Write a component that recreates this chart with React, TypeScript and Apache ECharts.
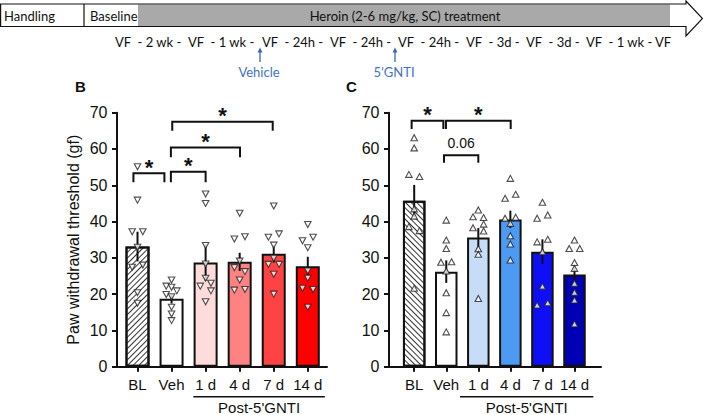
import React, { useEffect, useRef } from "react";
import * as echarts from "echarts";

// ---------- data ----------
const categories = ["BL", "Veh", "1 d", "4 d", "7 d", "14 d"];
const yTickValues = [0, 10, 20, 30, 40, 50, 60, 70];

// Panel B (down triangles, red)
const meansB = [33.1, 18.7, 28.7, 28.9, 31.1, 27.7];
const semB = [4.1, 1.3, 5.0, 2.5, 2.4, 2.6];
const pointsB = [
  [55.1, 45.9, 37.2, 37.2, 32.9, 28.0, 27.4, 20.4, 17.5],
  [23.9, 22.2, 21.9, 20.9, 19.9, 19.3, 16.4, 14.5, 12.7],
  [47.6, 45.0, 33.4, 28.3, 24.4, 23.0, 22.2, 20.9, 17.9],
  [42.3, 35.8, 35.2, 29.1, 27.3, 26.2, 23.9, 21.3, 21.1],
  [44.3, 36.6, 35.7, 33.5, 29.9, 28.2, 28.2, 25.5, 20.0],
  [39.2, 35.7, 34.7, 32.8, 26.4, 24.4, 21.6, 21.3, 16.4],
];
const jitterB = [
  [0, 0, -1, 1, 0, 1, -1, 0, 0],
  [0, -1, 0, 1, -1, 0, 0, 0, 0],
  [0, 0, 0, 0, 0, 1, -1, 1, 0],
  [0, 1, -1, 0, -1, 1, 0, 1, -1],
  [0, 1, -1, 0, 0, -1, 1, 0, 0],
  [0, 1, -1, 0, 0, 0, -1, 1, 0],
];
const bracketsB = [
  // [x1, x2, top, leftLegEnd, rightLegEnd]
  [-0.12, 0.79, 53.3, 50.8, 50.8],
  [0.98, 2.0, 53.7, 50.8, 50.8],
  [0.98, 3.01, 60.4, 57.7, 57.7],
  [1.02, 3.97, 67.5, 65.0, 65.0],
];
const bracketLabelsB = ["*", "*", "*", "*"];

// Panel C (up triangles, blue)
const meansC = [45.7, 26.2, 35.6, 40.6, 31.7, 25.4];
const semC = [4.4, 3.1, 2.6, 2.4, 3.4, 2.2];
const pointsC = [
  [63.1, 60.3, 53.0, 52.4, 43.5, 41.5, 38.6, 37.5, 21.6],
  [40.4, 34.9, 32.6, 28.9, 28.8, 26.4, 20.4, 14.9, 9.6],
  [43.2, 41.3, 41.1, 39.3, 38.3, 37.4, 32.5, 31.0, 18.8],
  [51.9, 47.5, 46.4, 41.2, 40.9, 39.5, 36.1, 33.8, 29.4],
  [45.3, 41.8, 40.9, 35.1, 34.4, 31.7, 22.2, 17.6, 17.0],
  [34.9, 32.6, 32.6, 28.7, 27.1, 23.0, 20.5, 18.4, 11.8],
];
const jitterC = [
  [0, 0, -1, 1, 0, 0, -1, 1, 0],
  [0, 0, 0, 1, -1, 0, 0, 0, 0],
  [0, -1, 1, 1, -1, 1, 0, 0, 0],
  [0, 1, -1, 1, -1, 0, 0, 0, 0],
  [0, 1, -1, 1, -1, 0, 0, 1, -1],
  [0, -1, 1, 0, 0, 0, 0, 0, 0],
];
const bracketsC = [
  [-0.08, 0.91, 67.8, 65.5, 65.5],
  [0.99, 3.01, 67.8, 65.5, 65.5],
  [0.93, 2.0, 58.3, 56.2, 56.2],
];
const bracketLabelsC = ["*", "*", "0.06"];

const postGroupLabel = "Post-5'GNTI";
const postGroupSpanB = [[1.64, 5.5]];
const postGroupSpanC = [[1.43, 5.59]];

// timeline texts
const timelineSteps = [
  "VF  - 2 wk -",
  "VF  - 1 wk -",
  "VF  - 24h -",
  "VF  - 24h -",
  "VF  - 24h -",
  "VF  - 3d -",
  "VF  - 3d -",
  "VF  - 1 wk -",
  "VF",
];

// ---------- styles / layout ----------
const FONT = "Liberation Sans, Arial, sans-serif";
const TFONT = "Lato, Liberation Sans, sans-serif";
const colorsB = ["#ffffff", "#ffffff", "#ffdcdc", "#ff8282", "#ff4242", "#ff0000"];
const colorsC = ["#ffffff", "#ffffff", "#c6dcf7", "#4c9af2", "#0f0ff5", "#0000b4"];
const stepX = [115, 188, 262, 330, 398, 466, 526, 586, 655];

const gridB = { left: 117, top: 112.7, width: 210, height: 254 };
const gridC = { left: 389, top: 112.7, width: 212, height: 254 };
const xRangeB = [-0.602, 5.564];
const xRangeC = [-0.786, 5.827];

function makeXAxis(gridIndex: number, range: number[]) {
  return {
    type: "value",
    gridIndex,
    min: range[0],
    max: range[1],
    splitLine: { show: false },
    axisLine: { show: true, onZero: false, lineStyle: { color: "#111", width: 2 } },
    axisTick: {
      show: true,
      length: 5,
      customValues: categories.map((_, i) => i),
      lineStyle: { color: "#111", width: 2 },
    },
    axisLabel: {
      show: true,
      customValues: categories.map((_, i) => i),
      formatter: (v: number) => categories[Math.round(v)] ?? "",
      color: "#111",
      fontSize: 15,
      fontFamily: FONT,
      margin: 10,
    },
  };
}

function makeYAxis(gridIndex: number, withName: boolean) {
  return {
    type: "value",
    gridIndex,
    min: 0,
    max: 70,
    interval: 10,
    splitLine: { show: false },
    axisLine: { show: true, onZero: false, lineStyle: { color: "#111", width: 2 } },
    axisTick: { show: true, length: 5, lineStyle: { color: "#111", width: 2 } },
    axisLabel: {
      color: "#111",
      fontSize: 16,
      fontFamily: FONT,
      margin: 9.5,
      formatter: (v: number) => (yTickValues.includes(v) ? String(v) : ""),
    },
    name: withName ? "Paw withdrawal threshold (gf)" : "",
    nameLocation: "middle",
    nameRotate: 90,
    nameGap: 36,
    nameTextStyle: { color: "#111", fontSize: 16, fontFamily: FONT },
  };
}

function barSeries(idx: number, means: number[], colors: string[], rot: number, barWidth: number) {
  return {
    type: "bar",
    xAxisIndex: idx,
    yAxisIndex: idx,
    barWidth,
    z: 2,
    data: means.map((m, i) => ({
      value: [i, m],
      itemStyle: {
        color: colors[i],
        borderColor: "#111",
        borderWidth: 2,
        decal:
          i === 0
            ? {
                symbol: "rect",
                symbolSize: 1,
                dashArrayX: [1, 0],
                dashArrayY: [1, 2.4],
                rotation: rot,
                color: "#333",
              }
            : undefined,
      },
    })),
  };
}

function errSeries(idx: number, means: number[], sems: number[]) {
  return {
    type: "custom",
    xAxisIndex: idx,
    yAxisIndex: idx,
    z: 3,
    encode: { x: 0, y: 1 },
    data: means.map((m, i) => [i, m, sems[i]]),
    renderItem: (_p: any, api: any) => {
      const x = api.value(0);
      const m = api.value(1);
      const e = api.value(2);
      const a = api.coord([x, m + e]);
      const b = api.coord([x, m - e]);
      return {
        type: "line",
        shape: { x1: a[0], y1: a[1], x2: b[0], y2: b[1] },
        style: { stroke: "#111", lineWidth: 2 },
      };
    },
  };
}

function pointSeries(idx: number, pts: number[][], jit: number[][], range: number[], width: number, rotate: number) {
  const dx = 5.3 / (width / (range[1] - range[0]));
  const data: number[][] = [];
  pts.forEach((arr, i) => arr.forEach((v, k) => data.push([i + jit[i][k] * dx, v])));
  return {
    type: "scatter",
    xAxisIndex: idx,
    yAxisIndex: idx,
    z: 4,
    symbol: "triangle",
    symbolSize: [6.5, 6],
    symbolRotate: rotate,
    itemStyle: { color: "#ffffff", borderColor: "#222", borderWidth: 1.1 },
    data,
  };
}

function bracketSeries(idx: number, brs: number[][], labels: string[]) {
  return {
    type: "custom",
    xAxisIndex: idx,
    yAxisIndex: idx,
    z: 5,
    encode: { x: [0, 1], y: [2, 3, 4] },
    data: brs,
    renderItem: (params: any, api: any) => {
      const x1 = api.value(0);
      const x2 = api.value(1);
      const yt = api.value(2);
      const pL = api.coord([x1, api.value(3)]);
      const pTL = api.coord([x1, yt]);
      const pTR = api.coord([x2, yt]);
      const pR = api.coord([x2, api.value(4)]);
      const lab = labels[params.dataIndex];
      const star = lab === "*";
      return {
        type: "group",
        children: [
          {
            type: "polyline",
            shape: { points: [pL, pTL, pTR, pR] },
            style: { stroke: "#111", lineWidth: 2, fill: null },
          },
          {
            type: "text",
            x: (pTL[0] + pTR[0]) / 2,
            y: pTL[1] - (star ? 6 : 12.5),
            style: {
              text: lab,
              font: star ? `bold 22px ${FONT}` : `14px ${FONT}`,
              align: "center",
              verticalAlign: "middle",
              fill: "#111",
            },
          },
        ],
      };
    },
  };
}

function groupSeries(idx: number, span: number[][]) {
  return {
    type: "custom",
    xAxisIndex: idx,
    yAxisIndex: idx,
    z: 5,
    encode: { x: [0, 1] },
    data: span,
    renderItem: (_p: any, api: any) => {
      const a = api.coord([api.value(0), 0]);
      const b = api.coord([api.value(1), 0]);
      return {
        type: "group",
        children: [
          {
            type: "line",
            shape: { x1: a[0], y1: a[1] + 30, x2: b[0], y2: b[1] + 30 },
            style: { stroke: "#111", lineWidth: 1.6 },
          },
          {
            type: "text",
            x: (a[0] + b[0]) / 2,
            y: a[1] + 41,
            style: {
              text: postGroupLabel,
              font: `15px ${FONT}`,
              align: "center",
              verticalAlign: "middle",
              fill: "#111",
            },
          },
        ],
      };
    },
  };
}

function timelineGraphics() {
  const blue = "#3f66ad";
  const els: any[] = [
    { type: "rect", shape: { x: 138, y: 4.5, width: 532, height: 21.5 }, style: { fill: "#a9a9a9" } },
    {
      type: "polygon",
      shape: {
        points: [
          [0.6, 4],
          [686, 4],
          [686, 1],
          [702.5, 18.5],
          [686, 36],
          [686, 26.5],
          [0.6, 26.5],
        ],
      },
      style: { fill: null, stroke: "#111", lineWidth: 1.2 },
    },
    { type: "line", shape: { x1: 84, y1: 4, x2: 84, y2: 26.5 }, style: { stroke: "#111", lineWidth: 1.2 } },
    { type: "text", x: 4, y: 15.5, style: { text: "Handling", font: `13px ${TFONT}`, fill: "#111", verticalAlign: "middle" } },
    { type: "text", x: 90, y: 15.5, style: { text: "Baseline", font: `13px ${TFONT}`, fill: "#111", verticalAlign: "middle" } },
    {
      type: "text",
      x: 405,
      y: 15.5,
      style: { text: "Heroin (2-6 mg/kg, SC) treatment", font: `13px ${TFONT}`, fill: "#111", align: "center", verticalAlign: "middle" },
    },
  ];
  timelineSteps.forEach((t, i) =>
    els.push({ type: "text", x: stepX[i], y: 42, style: { text: t, font: `13px ${TFONT}`, fill: "#111", verticalAlign: "middle" } })
  );
  const arrows = [
    [260, "Vehicle"],
    [395, "5\u2019GNTI"],
  ] as [number, string][];
  arrows.forEach(([x, label]) => {
    els.push({ type: "line", shape: { x1: x, y1: 62, x2: x, y2: 50 }, style: { stroke: blue, lineWidth: 1.3 } });
    els.push({
      type: "polygon",
      shape: { points: [[x - 2.5, 52.5], [x, 47.5], [x + 2.5, 52.5]] },
      style: { fill: blue },
    });
    els.push({
      type: "text",
      x: x - 1,
      y: 72,
      style: { text: label, font: `13px ${TFONT}`, fill: "#4472c4", align: "center", verticalAlign: "middle" },
    });
  });
  els.push({ type: "text", x: 75, y: 86, style: { text: "B", font: `bold 15px ${FONT}`, fill: "#111", verticalAlign: "middle" } });
  els.push({ type: "text", x: 346, y: 86, style: { text: "C", font: `bold 15px ${FONT}`, fill: "#111", verticalAlign: "middle" } });
  return els;
}

export default function App() {
  const ref = useRef<HTMLDivElement>(null);
  useEffect(() => {
    if (!ref.current) return;
    const chart = echarts.init(ref.current, null, { renderer: "svg" });
    chart.setOption({
      animation: false,
      backgroundColor: "#ffffff",
      grid: [
        { ...gridB, containLabel: false },
        { ...gridC, containLabel: false },
      ],
      xAxis: [makeXAxis(0, xRangeB), makeXAxis(1, xRangeC)],
      yAxis: [makeYAxis(0, true), makeYAxis(1, false)],
      graphic: timelineGraphics(),
      series: [
        barSeries(0, meansB, colorsB, -Math.PI / 4, 24),
        errSeries(0, meansB, semB),
        pointSeries(0, pointsB, jitterB, xRangeB, gridB.width, 180),
        bracketSeries(0, bracketsB, bracketLabelsB),
        groupSeries(0, postGroupSpanB),
        barSeries(1, meansC, colorsC, Math.PI / 4, 22.5),
        errSeries(1, meansC, semC),
        pointSeries(1, pointsC, jitterC, xRangeC, gridC.width, 0),
        bracketSeries(1, bracketsC, bracketLabelsC),
        groupSeries(1, postGroupSpanC),
      ],
    });
    return () => chart.dispose();
  }, []);
  return (
    <div
      ref={ref}
      style={{ position: "fixed", left: 0, top: 0, width: 703, height: 415, background: "#fff" }}
    />
  );
}
